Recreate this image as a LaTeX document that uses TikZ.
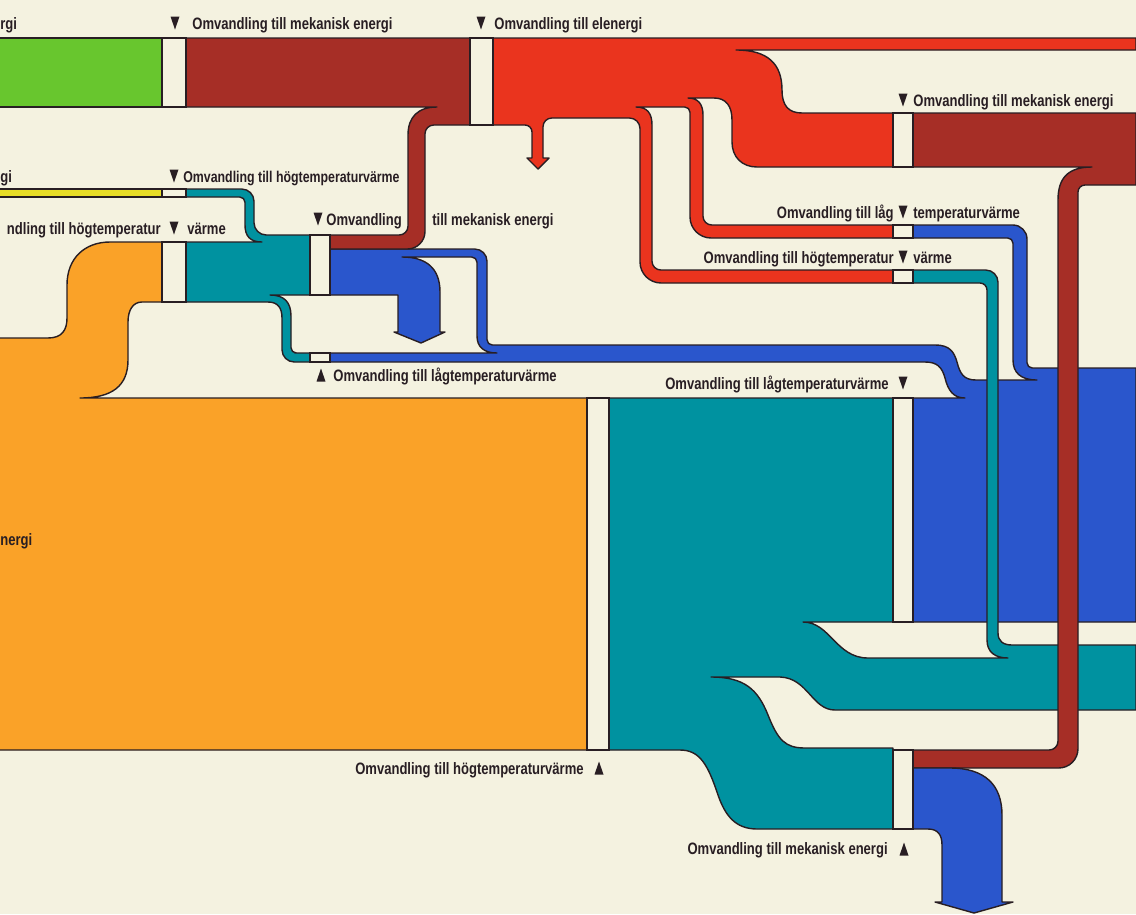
\documentclass[tikz,border=0pt]{standalone}
\usepackage{fontspec}
\setmainfont{Liberation Sans}[FakeStretch=0.79]
\definecolor{cream}{RGB}{244,242,224}
\definecolor{ink}{RGB}{40,30,35}
\definecolor{greenflow}{RGB}{104,198,46}
\definecolor{brownflow}{RGB}{166,46,38}
\definecolor{redflow}{RGB}{234,52,30}
\definecolor{yellowflow}{RGB}{232,222,40}
\definecolor{tealflow}{RGB}{0,146,160}
\definecolor{blueflow}{RGB}{42,86,204}
\definecolor{orangeflow}{RGB}{250,162,40}
\begin{document}
\begin{tikzpicture}[x=0.02cm,y=-0.02cm,
  flow/.style={draw=ink,line width=0.8pt,line join=round},
  gap/.style={fill=cream,draw=ink,line width=0.8pt},
  lbl/.style={inner sep=0pt,text=ink,font=\bfseries\fontsize{9.4}{11}\selectfont},
  narrow/.style={font=\bfseries\fontsize{8.9}{11}\selectfont},
  downmark/.pic={\fill[ink] (-4.5,-6.5) -- (4.5,-6.5) -- (0,6.5) -- cycle;},
  upmark/.pic={\fill[ink] (-4.5,6.5) -- (4.5,6.5) -- (0,-6.5) -- cycle;}]
\useasboundingbox (0,0) rectangle (1136,914);
\fill[cream] (0,0) rectangle (1136,914);
\clip (0,0) rectangle (1136,914);

\path[flow,fill=orangeflow] (-5,338) -- (48,338) .. controls (62,338) and (67,330) .. (67,318) -- (67,285) .. controls (67,258) and (85,242) .. (110,242) -- (162,242) -- (162,302) -- (142,302) .. controls (133,302) and (128,310) .. (128,322) -- (128,360) .. controls (128,386) and (112,398) .. (80,398) -- (587,398) -- (587,750) -- (-5,750) -- cycle;
\path[flow,fill=greenflow] (-5,38) rectangle (162,107);
\path[flow,fill=yellowflow] (-5,189) rectangle (162,197);

\path[flow,fill=blueflow] (330,249) -- (420,249) [rounded corners=7pt] -- (487,249) -- (487,300) [rounded corners=3pt] -- (487,345) -- (700,345) [sharp corners] -- (935,345) .. controls (950,345) and (954,352) .. (957,362) .. controls (960,374) and (964,380) .. (976,380) -- (1037,380) .. controls (1020,380) and (1013,372) .. (1013,360) -- (1013,300) [rounded corners=3pt] -- (1013,238) -- (960,238) [sharp corners] -- (913,238) -- (913,225) -- (960,225) [rounded corners=8pt] -- (1027,225) -- (1027,300) [rounded corners=3pt] -- (1027,368) -- (1080,368) [sharp corners] -- (1136,368) -- (1136,622) -- (913,622) -- (913,398) -- (965,398) .. controls (953,398) and (948,390) .. (945,378) .. controls (942,367) and (937,362) .. (925,362) -- (330,362) -- (330,353) -- (497,353) .. controls (484,353) and (477,347) .. (477,336) -- (477,300) [rounded corners=3pt] -- (477,257) -- (440,257) [sharp corners] -- (402,257) .. controls (426,257) and (440,268) .. (440,292) -- (440,332) -- (445,332) -- (421,343) -- (394,332) -- (398,332) -- (398,295) -- (330,295) -- cycle;

\path[flow,fill=tealflow] (609,398) -- (893,398) -- (893,622) -- (803,622) .. controls (830,622) and (836,658) .. (868,658) -- (1008,658) .. controls (995,658) and (987,652) .. (987,640) -- (987,320) [rounded corners=4pt] -- (987,283) -- (950,283) [sharp corners] -- (913,283) -- (913,270) -- (950,270) [rounded corners=7pt] -- (998,270) -- (998,320) [sharp corners] -- (998,633) .. controls (998,641) and (1003,645) .. (1012,645) -- (1136,645) -- (1136,710) -- (835,710) .. controls (812,710) and (808,678) .. (780,677) -- (711,677) .. controls (745,677) and (758,690) .. (768,715) .. controls (778,740) and (785,748) .. (805,748) -- (893,748) -- (893,829) -- (757,829) .. controls (735,829) and (725,815) .. (718,795) .. controls (708,765) and (700,750) .. (680,750) -- (609,750) -- cycle;

\path[flow,fill=tealflow] (186,189) -- (220,189) [rounded corners=7pt] -- (254,189) -- (254,235) -- (285,235) [sharp corners] -- (310,235) -- (310,295) -- (270,295) .. controls (284,295) and (291,302) .. (291,316) -- (291,330) [rounded corners=3pt] -- (291,353) -- (300,353) [sharp corners] -- (310,353) -- (310,362) -- (300,362) [rounded corners=7pt] -- (282,362) -- (282,335) [sharp corners] -- (282,318) .. controls (282,308) and (278,302) .. (268,302) -- (186,302) -- (186,242) -- (262,242) .. controls (250,242) and (245,236) .. (245,225) -- (245,205) [rounded corners=3pt] -- (245,197) -- (220,197) [sharp corners] -- (186,197) -- cycle;

\path[flow,fill=brownflow] (186,38) -- (470,38) -- (470,125) -- (445,125) [rounded corners=5pt] -- (425,125) -- (425,180) [rounded corners=10pt] -- (425,249) -- (380,249) [sharp corners] -- (330,249) -- (330,235) -- (380,235) [rounded corners=5pt] -- (408,235) -- (408,180) [sharp corners] -- (408,135) .. controls (408,117) and (418,107) .. (437,107) -- (186,107) -- cycle;

\path[flow,fill=redflow] (493,38) -- (1136,38) -- (1136,50) -- (736,50) .. controls (768,50) and (782,64) .. (782,90) .. controls (782,105) and (788,113) .. (802,113) -- (893,113) -- (893,167) -- (757,167) .. controls (742,167) and (732,157) .. (732,142) -- (732,120) .. controls (732,106) and (726,98) .. (714,98) -- (688,98) .. controls (698,98) and (703,104) .. (703,115) -- (703,200) [rounded corners=5pt] -- (703,225) -- (800,225) [sharp corners] -- (893,225) -- (893,238) -- (800,238) [rounded corners=12pt] -- (690,238) -- (690,170) [rounded corners=3pt] -- (690,107) -- (670,107) [sharp corners] -- (636,107) .. controls (647,107) and (652,113) .. (652,125) -- (652,240) [rounded corners=5pt] -- (652,270) -- (800,270) [sharp corners] -- (893,270) -- (893,283) -- (800,283) [rounded corners=12pt] -- (640,283) -- (640,200) [rounded corners=6pt] -- (640,118) -- (600,118) [rounded corners=5pt] -- (543,118) -- (543,140) [sharp corners] -- (543,158) -- (549,158) -- (538,169) -- (527,158) -- (532,158) -- (532,140) [rounded corners=4pt] -- (532,125) -- (510,125) [sharp corners] -- (493,125) -- cycle;

\path[flow,fill=brownflow] (913,113) -- (1136,113) -- (1136,185) -- (1100,185) [rounded corners=4pt] -- (1078,185) -- (1078,400) [rounded corners=11pt] -- (1078,768) -- (1000,768) [sharp corners] -- (913,768) -- (913,750) -- (1000,750) [rounded corners=5pt] -- (1058,750) -- (1058,400) [sharp corners] -- (1058,200) .. controls (1058,178) and (1068,167) .. (1092,167) -- (913,167) -- cycle;

\path[flow,fill=blueflow] (913,768) -- (950,768) .. controls (985,768) and (1002,785) .. (1002,815) -- (1002,902) -- (1013,902) -- (974,913) -- (935,902) -- (942,902) -- (942,845) .. controls (942,835) and (938,829) .. (928,829) -- (913,829) -- cycle;

\path[gap] (162,38) rectangle (186,107);
\path[gap] (470,38) rectangle (493,125);
\path[gap] (162,189) rectangle (186,197);
\path[gap] (162,242) rectangle (186,302);
\path[gap] (310,235) rectangle (330,295);
\path[gap] (310,353) rectangle (330,362);
\path[gap] (893,113) rectangle (913,167);
\path[gap] (893,225) rectangle (913,238);
\path[gap] (893,270) rectangle (913,283);
\path[gap] (587,398) rectangle (609,750);
\path[gap] (893,398) rectangle (913,622);
\path[gap] (893,750) rectangle (913,829);

\node[lbl,anchor=base west] (t1) at (0,29) {rgi};
\pic at (175,23) {downmark};
\node[lbl,anchor=base west] (t2) at (192,29) {Omvandling till mekanisk energi};
\pic at (481,23) {downmark};
\node[lbl,anchor=base west] (t3) at (494,29) {Omvandling till elenergi};
\pic at (903,100) {downmark};
\node[lbl,anchor=base west] (t4) at (913,106) {Omvandling till mekanisk energi};
\node[lbl,anchor=base west] (t5) at (0,182) {gi};
\pic at (174,176) {downmark};
\node[lbl,narrow,anchor=base west] (t6) at (183,182) {Omvandling till högtemperaturvärme};
\node[lbl,anchor=base east] (t7) at (161,234) {ndling till högtemperatur};
\pic at (174,228) {downmark};
\node[lbl,anchor=base west] (t8) at (187,234) {värme};
\pic at (318,219) {downmark};
\node[lbl,anchor=base west] (t9) at (326,225) {Omvandling};
\node[lbl,anchor=base west] (t10) at (432,225) {till mekanisk energi};
\node[lbl,anchor=base east] (t11) at (894,218) {Omvandling till låg};
\pic at (903,212) {downmark};
\node[lbl,anchor=base west] (t12) at (913,218) {temperaturvärme};
\node[lbl,anchor=base east] (t13) at (894,263) {Omvandling till högtemperatur};
\pic at (903,257) {downmark};
\node[lbl,anchor=base west] (t14) at (913,263) {värme};
\pic at (321,375) {upmark};
\node[lbl,anchor=base west] (t15) at (333,381) {Omvandling till lågtemperaturvärme};
\node[lbl,anchor=base east] (t16) at (889,389) {Omvandling till lågtemperaturvärme};
\pic at (903,383) {downmark};
\node[lbl,anchor=base west] (t17) at (0,545) {nergi};
\node[lbl,anchor=base east] (t18) at (584,774) {Omvandling till högtemperaturvärme};
\pic at (599,768) {upmark};
\node[lbl,anchor=base east] (t19) at (888,854) {Omvandling till mekanisk energi};
\pic at (904,849) {upmark};
\end{tikzpicture}
\end{document}
